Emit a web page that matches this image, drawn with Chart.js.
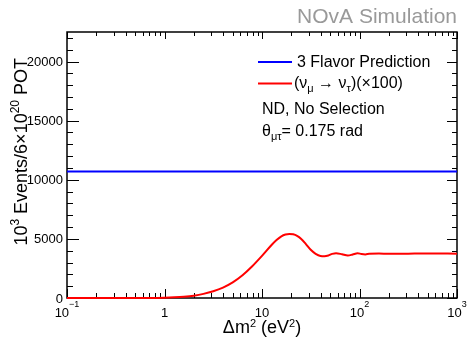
<!DOCTYPE html>
<html>
<head>
<meta charset="utf-8">
<script src="https://cdn.jsdelivr.net/npm/chart.js@4"></script>
<style>
    body { margin: 0; background: #fff; }
    canvas { display: block; }
</style>
</head>
<body>
<canvas id="chart" width="468" height="339"></canvas>
<script>
// Data
const dm2 = [0.1, 0.32, 0.63, 1.0, 1.26, 1.58, 2.0, 2.51, 3.16, 3.98, 5.01, 6.31, 7.94, 10, 12.6, 14.1, 15.8, 17.4, 19.1, 20.9, 22.9, 25.1, 28.2, 31.6, 35.5, 39.8, 43.7, 47.9, 52.5, 57.5, 66.1, 75.9, 85.1, 95.5, 104.7, 114.8, 125.9, 158.5, 199.5, 316, 501, 1000];
const nutauEvents = [0, 0, 8, 30, 60, 110, 200, 350, 570, 880, 1320, 1920, 2680, 3560, 4500, 4900, 5220, 5370, 5420, 5390, 5260, 5020, 4560, 4080, 3740, 3560, 3540, 3600, 3730, 3790, 3700, 3590, 3680, 3790, 3720, 3690, 3740, 3760, 3740, 3750, 3760, 3750];
const threeFlavorX = [0.1, 1000];
const threeFlavorEvents = [10700, 10700];
const yTicks = [0, 5000, 10000, 15000, 20000];
const yTickLabels = ["0", "5000", "10000", "15000", "20000"];
const xTicks = [0.1, 1, 10, 100, 1000];
const xTickLabels = [["10", "\u22121"], ["1", ""], ["10", ""], ["10", "2"], ["10", "3"]];

const FONT = '"Liberation Sans", Arial, Helvetica, sans-serif';

// draw text made of pieces (for sub/superscripts)
function richWidth(ctx, parts) {
    let w = 0;
    parts.forEach(p => {
        ctx.font = `${p.size}px ${FONT}`;
        w += ctx.measureText(p.t).width;
    });
    return w;
}

function drawRich(ctx, parts, x, y, align) {
    let w = richWidth(ctx, parts);
    let cx = x;
    if (align === "center") cx = x - w / 2;
    if (align === "right") cx = x - w;
    ctx.textAlign = "left";
    ctx.textBaseline = "alphabetic";
    parts.forEach(p => {
        ctx.font = `${p.size}px ${FONT}`;
        ctx.fillText(p.t, cx, y + (p.dy || 0));
        cx += ctx.measureText(p.t).width;
    });
}

const rootStyle = {
    id: "rootStyle",
    beforeDatasetsDraw(chart) {
        const ctx = chart.ctx;
        const a = chart.chartArea;
        const xs = chart.scales.x;
        const ys = chart.scales.y;
        ctx.save();
        ctx.strokeStyle = "#000";
        ctx.lineWidth = 1;

        // y ticks, left and right
        for (let v = 0; v <= 22000; v += 1000) {
            const py = Math.round(ys.getPixelForValue(v)) + 0.5;
            const major = v % 5000 === 0;
            ctx.beginPath();
            ctx.moveTo(a.left, py);
            ctx.lineTo(a.left + (major ? 12 : 6), py);
            ctx.moveTo(a.right, py);
            ctx.lineTo(a.right - (major ? 10 : 5), py);
            ctx.stroke();
        }

        // x ticks, bottom and top
        for (let d = 0.1; d < 999; d *= 10) {
            for (let k = 1; k <= 10; k++) {
                const px = Math.round(xs.getPixelForValue(d * k)) + 0.5;
                const major = k === 1 || k === 10;
                ctx.beginPath();
                ctx.moveTo(px, a.bottom);
                ctx.lineTo(px, a.bottom - (major ? 9 : 5));
                ctx.moveTo(px, a.top);
                ctx.lineTo(px, a.top + (major ? 7 : 4));
                ctx.stroke();
            }
        }

        // frame
        ctx.lineWidth = 1.5;
        ctx.strokeRect(a.left, a.top, a.right - a.left, a.bottom - a.top);
        ctx.restore();
    },
    afterDraw(chart) {
        const ctx = chart.ctx;
        const a = chart.chartArea;
        const xs = chart.scales.x;
        const ys = chart.scales.y;
        ctx.save();
        ctx.fillStyle = "#000";

        // y tick labels
        ctx.font = `13px ${FONT}`;
        ctx.textAlign = "right";
        ctx.textBaseline = "alphabetic";
        yTicks.forEach((v, i) => {
            ctx.fillText(yTickLabels[i], a.left - 4, ys.getPixelForValue(v) + 4.5);
        });

        // x tick labels
        xTicks.forEach((v, i) => {
            const lab = xTickLabels[i];
            const parts = [{ t: lab[0], size: 13 }];
            if (lab[1]) parts.push({ t: lab[1], size: 9, dy: -10 });
            drawRich(ctx, parts, xs.getPixelForValue(v), a.bottom + 19, "center");
        });

        // x title
        drawRich(ctx, [
            { t: "\u0394m", size: 18 },
            { t: "2", size: 11, dy: -6 },
            { t: " (eV", size: 18 },
            { t: "2", size: 11, dy: -6 },
            { t: ")", size: 18 }
        ], (a.left + a.right) / 2, 333, "center");

        // y title (rotated)
        ctx.save();
        ctx.translate(27, 58);
        ctx.rotate(-Math.PI / 2);
        drawRich(ctx, [
            { t: "10", size: 18 },
            { t: "3", size: 12, dy: -8 },
            { t: " Events/6\u00d710", size: 18 },
            { t: "20", size: 12, dy: -8 },
            { t: " POT", size: 18 }
        ], 0, 0, "right");
        ctx.restore();

        // simulation label
        ctx.fillStyle = "#999";
        ctx.font = `21px ${FONT}`;
        ctx.textAlign = "right";
        ctx.fillText("NOvA Simulation", a.right, 23);

        // legend
        ctx.lineWidth = 2;
        ctx.strokeStyle = "#0000ff";
        ctx.beginPath();
        ctx.moveTo(258, 62);
        ctx.lineTo(292, 62);
        ctx.stroke();
        ctx.strokeStyle = "#ff0000";
        ctx.beginPath();
        ctx.moveTo(258, 83.5);
        ctx.lineTo(292, 83.5);
        ctx.stroke();

        ctx.fillStyle = "#000";
        drawRich(ctx, [{ t: "3 Flavor Prediction", size: 16 }], 297, 67, "left");
        drawRich(ctx, [
            { t: "(\u03bd", size: 16 },
            { t: "\u03bc", size: 11, dy: 4 },
            { t: " \u2192 \u03bd", size: 16 },
            { t: "\u03c4", size: 11, dy: 4 },
            { t: ")(\u00d7100)", size: 16 }
        ], 294, 88, "left");
        drawRich(ctx, [{ t: "ND, No Selection", size: 16 }], 262, 114, "left");
        drawRich(ctx, [
            { t: "\u03b8", size: 16 },
            { t: "\u03bc\u03c4", size: 11, dy: 4 },
            { t: "= 0.175 rad", size: 16 }
        ], 262, 136, "left");
        ctx.restore();
    }
};

const nutauPoints = dm2.map((x, i) => ({ x: x, y: nutauEvents[i] }));
const threeFlavorPoints = threeFlavorX.map((x, i) => ({ x: x, y: threeFlavorEvents[i] }));

new Chart(document.getElementById("chart"), {
    type: "line",
    data: {
        datasets: [
            {
                label: "3 Flavor Prediction",
                data: threeFlavorPoints,
                borderColor: "#0000ff",
                borderWidth: 2,
                pointRadius: 0
            },
            {
                label: "(nu_mu -> nu_tau)(x100)",
                data: nutauPoints,
                borderColor: "#ff0000",
                borderWidth: 2,
                pointRadius: 0,
                cubicInterpolationMode: "monotone",
                clip: 3
            }
        ]
    },
    options: {
        responsive: false,
        animation: false,
        layout: { padding: { left: 67, right: 11, top: 32, bottom: 41 } },
        plugins: {
            legend: { display: false },
            tooltip: { enabled: false }
        },
        scales: {
            x: {
                type: "logarithmic",
                display: false,
                min: 0.1,
                max: 1000
            },
            y: {
                display: false,
                min: 0,
                max: 22500
            }
        }
    },
    plugins: [rootStyle]
});
</script>
</body>
</html>
